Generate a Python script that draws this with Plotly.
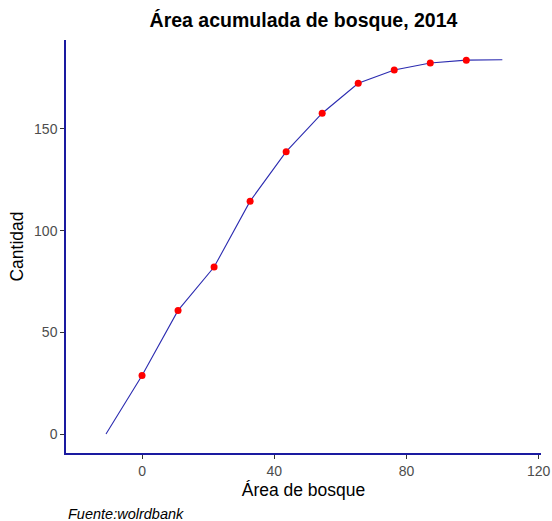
import plotly.graph_objects as go

area = [-10.9, 0, 10.9, 21.8, 32.7, 43.6, 54.5, 65.4, 76.3, 87.2, 98.1, 109.0]
cantidad = [0, 28.8, 60.8, 82.1, 114.5, 138.8, 157.7, 172.4, 179.0, 182.4, 183.8, 184.0]
point_area = area[1:-1]
point_cant = cantidad[1:-1]

fig = go.Figure()
fig.add_trace(go.Scatter(x=area, y=cantidad, mode="lines",
                         line=dict(color="#2b2bb0", width=1.1), hoverinfo="skip"))
fig.add_trace(go.Scatter(x=point_area, y=point_cant, mode="markers",
                         marker=dict(color="#ff0000", size=7)))

tickfont = dict(family="Liberation Sans, Arial, sans-serif", size=14, color="#4d4d4d")
fig.update_layout(
    width=552, height=521,
    margin=dict(l=66, r=11, t=40, b=68),
    paper_bgcolor="white", plot_bgcolor="white",
    showlegend=False,
    font=dict(family="Liberation Sans, Arial, sans-serif"),
    title=dict(text="<b>Área acumulada de bosque, 2014</b>", x=0.5, xref="paper",
               xanchor="center", y=0.962, yanchor="middle",
               font=dict(size=19.5, color="black")),
    xaxis=dict(range=[-23, 120.7], tickvals=[0, 40, 80, 120], showgrid=False, zeroline=False,
               showline=True, linecolor="#1a1aa0", linewidth=1.5, automargin=False,
               ticks="outside", ticklen=4, tickcolor="#333333", tickfont=tickfont,
               title=dict(text="Área de bosque", font=dict(size=17.5, color="black"), standoff=6)),
    yaxis=dict(range=[-9.3, 193.7], tickvals=[0, 50, 100, 150], showgrid=False, zeroline=False,
               showline=True, linecolor="#1a1aa0", linewidth=1.5, automargin=False,
               ticks="outside", ticklen=4, tickcolor="#333333", tickfont=tickfont,
               title=dict(text="Cantidad", font=dict(size=17.5, color="black"), standoff=6)),
)
fig.add_annotation(text="<i>Fuente:wolrdbank</i>", xref="paper", yref="paper",
                   x=0, y=-0.148, xanchor="left", yanchor="middle", showarrow=False,
                   font=dict(size=14.5, color="black"))
fig.write_html("out.html", config={"displayModeBar": False},
               post_script="document.body.style.margin='0';")
